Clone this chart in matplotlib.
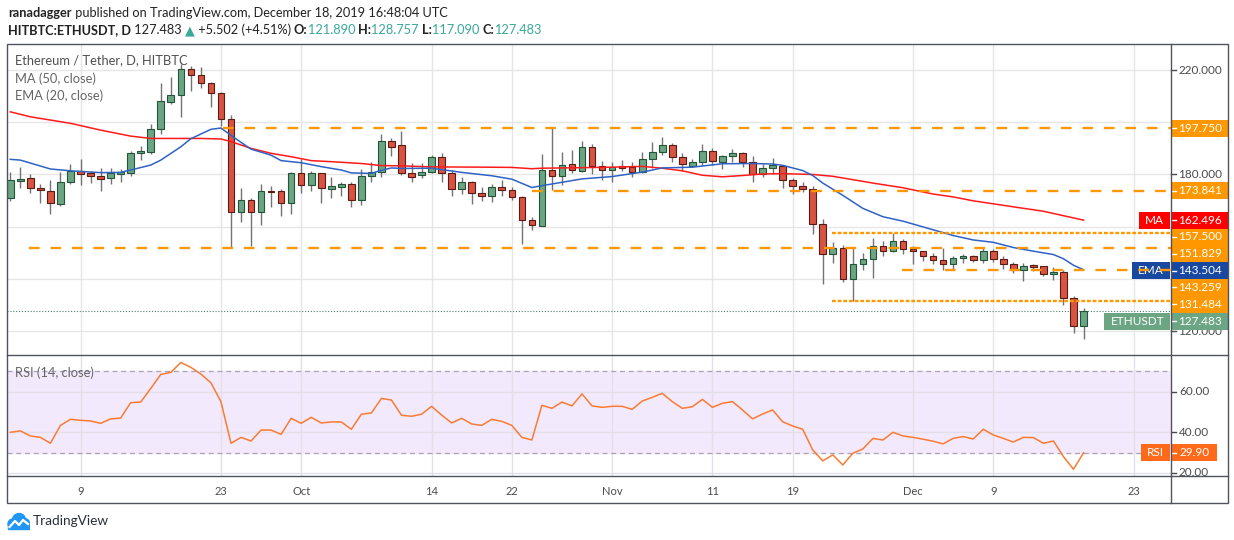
import numpy as np
import pandas as pd
import matplotlib
matplotlib.use('Agg')
import matplotlib.pyplot as plt
from matplotlib.patches import Rectangle, Circle
from matplotlib.transforms import blended_transform_factory, Bbox, TransformedBbox

plt.rcParams['font.family'] = ['Lato', 'DejaVu Sans']

# ETH/USDT daily candles on HitBTC, 2 Sep - 18 Dec 2019
dates = pd.date_range('2019-09-02', '2019-12-18', freq='D')

opens = [170.8, 177.5, 178.5, 174.8, 173.5, 168.7, 177.3, 181.2, 180.4, 179.6,
         178.5, 180.3, 180.4, 188.1, 188.8, 197.3, 207.6, 210.4, 220.3, 218.0,
         214.9, 211.1, 201.1, 165.7, 170.2, 165.7, 173.6, 173.6, 168.9, 180.4,
         175.8, 180.4, 174.6, 175.3, 176.2, 170.2, 179.6, 180.8, 192.7, 191.2,
         180.5, 179.7, 180.9, 186.6, 180.5, 174.4, 177.1, 172.9, 171.7, 175.2,
         174.0, 171.3, 162.5, 160.3, 181.7, 179.4, 183.9, 181.5, 190.4, 183.3,
         181.9, 183.3, 182.8, 181.1, 185.9, 188.5, 191.2, 186.6, 183.4, 184.7,
         188.9, 184.7, 186.9, 188.2, 184.7, 180.1, 182.3, 183.4, 178.0, 175.7,
         174.6, 160.9, 149.5, 151.8, 140.0, 145.7, 147.6, 152.5, 150.6, 154.4,
         151.5, 150.6, 148.7, 147.2, 145.6, 147.8, 148.9, 147.3, 150.7, 147.7,
         145.7, 143.4, 145.1, 145.0, 141.7, 142.6, 132.6, 121.890]
highs = [181.0, 182.8, 180.0, 176.3, 177.9, 180.8, 184.0, 185.9, 181.3, 182.6,
         182.5, 182.2, 189.1, 190.9, 199.3, 214.9, 217.4, 222.5, 221.5, 221.3,
         215.4, 211.6, 202.8, 174.9, 171.1, 176.3, 175.7, 174.5, 181.0, 185.8,
         181.4, 180.4, 179.0, 177.2, 177.1, 182.1, 184.7, 195.5, 194.0, 196.7,
         184.3, 184.3, 187.4, 188.3, 181.8, 179.1, 177.6, 175.2, 176.3, 178.0,
         175.2, 171.6, 163.7, 187.9, 197.7, 188.7, 189.4, 192.9, 191.7, 185.2,
         184.6, 185.6, 184.8, 188.8, 192.5, 194.4, 192.2, 188.3, 185.9, 191.7,
         190.3, 187.6, 189.8, 188.7, 187.1, 184.0, 186.4, 183.8, 178.7, 177.2,
         175.7, 162.9, 154.2, 152.9, 151.8, 150.0, 155.6, 154.6, 157.5, 155.4,
         152.4, 150.6, 149.9, 151.8, 148.9, 149.4, 149.2, 152.0, 151.6, 148.6,
         146.6, 145.9, 145.5, 145.0, 144.4, 143.3, 133.3, 128.757]
lows = [169.9, 174.7, 173.0, 169.2, 165.0, 168.0, 176.3, 176.1, 176.8, 173.8,
        176.4, 177.2, 179.5, 185.5, 188.0, 195.5, 207.0, 202.1, 212.1, 213.2,
        206.0, 198.7, 151.7, 161.9, 152.7, 160.6, 167.6, 164.2, 164.7, 173.0,
        173.8, 169.2, 170.8, 171.9, 167.6, 168.4, 177.3, 179.1, 186.9, 179.7,
        177.3, 178.5, 180.4, 177.3, 171.6, 172.7, 168.5, 169.7, 169.3, 171.6,
        170.4, 153.5, 158.6, 160.3, 174.0, 175.8, 180.6, 181.1, 180.0, 177.7,
        177.3, 181.5, 178.9, 180.5, 182.4, 187.3, 184.6, 181.4, 182.7, 183.6,
        183.6, 182.2, 184.7, 182.9, 177.3, 179.2, 180.0, 174.8, 172.7, 173.2,
        157.0, 138.0, 146.0, 138.7, 131.5, 143.5, 140.3, 148.9, 150.1, 149.6,
        145.8, 146.7, 145.7, 143.2, 143.5, 146.0, 146.6, 146.0, 146.6, 143.8,
        142.3, 139.0, 142.9, 141.0, 139.7, 129.8, 119.4, 117.090]
closes = [177.9, 178.3, 174.8, 173.9, 168.9, 177.3, 181.3, 180.3, 179.5, 178.4,
          180.4, 181.0, 188.1, 189.1, 197.4, 208.0, 210.4, 220.3, 218.0, 214.9,
          211.1, 201.2, 165.7, 170.2, 165.7, 173.6, 173.3, 168.9, 180.4, 175.8,
          180.4, 174.7, 175.6, 176.3, 170.2, 179.6, 180.8, 192.7, 190.7, 180.5,
          179.2, 181.0, 186.6, 180.5, 174.4, 177.1, 172.9, 171.6, 175.2, 173.9,
          171.3, 162.5, 160.5, 181.7, 179.4, 183.6, 181.7, 190.4, 183.3, 181.9,
          182.8, 182.5, 181.1, 185.9, 188.5, 191.2, 186.6, 183.9, 184.8, 188.9,
          185.1, 187.0, 188.3, 184.7, 180.1, 182.4, 183.7, 178.0, 175.7, 174.4,
          160.9, 149.5, 151.8, 140.0, 145.7, 147.6, 152.5, 150.6, 154.4, 151.4,
          150.5, 148.6, 147.1, 145.6, 148.1, 148.9, 147.2, 150.7, 147.7, 145.7,
          143.4, 145.0, 144.7, 141.9, 142.8, 132.6, 121.981, 127.483]

# MA(50) and EMA(20) (candle index -> value)
ma_idx = [0, 2, 6, 9, 12, 14, 19, 21, 22, 24, 26, 28, 30, 32, 35, 37, 39, 42, 47, 50,
          52, 53, 57, 60, 63, 65, 67, 69, 71, 73, 75, 77, 80, 82, 84, 86, 89, 92, 94, 96,
          100, 103, 107]
ma_val = [204.0, 202.1, 199.6, 197.0, 194.7, 193.8, 193.8, 193.6, 192.6, 190.0,
          188.1, 186.8, 185.3, 184.9, 184.2, 183.4, 183.3, 182.9, 182.8, 182.7,
          182.2, 182.4, 182.6, 182.8, 183.1, 182.4, 181.4, 179.7, 179.1, 179.6,
          180.2, 180.3, 180.0, 179.3, 178.0, 176.7, 174.9, 172.5, 171.4, 169.9,
          167.6, 165.9, 162.496]
ema_idx = [0, 1, 4, 6, 9, 11, 12, 14, 15, 17, 18, 19, 20, 21, 22, 23, 24, 26, 27, 29,
           31, 33, 34, 36, 37, 38, 39, 42, 45, 48, 50, 52, 53, 55, 57, 60, 63, 65, 68, 71,
           74, 76, 77, 79, 80, 81, 83, 85, 87, 89, 92, 94, 96, 98, 100, 102, 104, 105, 106, 107]
ema_val = [185.8, 185.5, 182.1, 181.4, 180.7, 180.8, 181.7, 183.6, 185.5, 190.6,
           193.7, 195.5, 197.3, 197.8, 195.0, 192.3, 189.7, 187.4, 185.3, 184.5,
           183.0, 181.7, 180.6, 180.4, 181.6, 182.5, 182.3, 182.4, 180.8, 179.5,
           178.2, 175.0, 175.7, 177.0, 178.3, 179.2, 180.9, 182.5, 182.8, 184.1,
           184.2, 184.0, 183.5, 181.5, 179.6, 176.7, 172.0, 167.0, 163.8, 162.1,
           158.8, 156.6, 154.9, 154.0, 152.0, 150.6, 149.3, 147.7, 145.2, 143.504]

rsi = [40.0, 40.7, 38.2, 37.5, 34.6, 43.4, 46.4, 45.9, 45.6, 44.4,
       46.6, 47.0, 54.6, 54.9, 61.6, 68.5, 69.5, 74.4, 72.0, 68.7,
       64.4, 55.1, 34.6, 37.5, 35.7, 41.1, 41.1, 39.0, 46.9, 44.4,
       47.4, 44.6, 45.1, 45.1, 41.5, 48.9, 49.5, 56.7, 55.9, 48.4,
       47.9, 48.9, 52.8, 48.5, 44.6, 46.9, 44.1, 43.4, 46.4, 45.4,
       43.4, 37.5, 36.2, 53.3, 51.8, 54.9, 53.0, 58.9, 53.0, 52.3,
       52.8, 52.8, 51.3, 55.4, 57.2, 59.2, 55.1, 51.8, 52.6, 56.2,
       52.3, 54.3, 55.1, 51.0, 46.6, 49.0, 51.0, 45.2, 43.1, 41.5,
       31.3, 25.9, 28.9, 23.9, 29.7, 31.8, 37.0, 36.2, 40.0, 38.2,
       37.5, 36.6, 35.6, 34.3, 37.0, 37.9, 36.7, 41.5, 38.7, 37.0,
       35.2, 37.5, 37.4, 34.6, 35.7, 28.0, 21.8, 29.90]

# horizontal levels drawn by the author
level_price = [197.750, 173.841, 157.500, 151.829, 143.259, 131.484]
level_from = [21.2, 52.0, 81.9, 1.9, 88.9, 81.9]
level_dotted = [False, False, True, False, False, True]

tick_dates = ['2019-09-09', '2019-09-23', '2019-10-01', '2019-10-14', '2019-10-22',
              '2019-11-01', '2019-11-11', '2019-11-19', '2019-12-01', '2019-12-09',
              '2019-12-23']
tick_labels = ['9', '23', 'Oct', '14', '22', 'Nov', '11', '19', 'Dec', '9', '23']
price_ticks = [120, 140, 160, 180, 200, 220]
rsi_ticks = [20, 40, 60]

UP, UP_EDGE = '#6ba583', '#225437'
DOWN, DOWN_EDGE = '#d75442', '#5b1a13'
ORANGE = '#ff9800'
TEAL = '#3aa89b'
GRID = '#e6e6e6'
FRAME = '#50535e'
TXT = '#4b4b4b'

W, H = 1234, 540
AX_R = 1171      # right edge of the panes / price scale line
FR_R = 1228      # right edge of the outer frame


def fx(px):
    return px / W


def fy(py):
    return 1 - py / H


fig = plt.figure(figsize=(12.34, 5.4), dpi=100)
ax = fig.add_axes([fx(7), fy(354.5), fx(AX_R) - fx(7), fy(44) - fy(354.5)])
rx = fig.add_axes([fx(7), fy(476), fx(AX_R) - fx(7), fy(355) - fy(476)], sharex=ax)
over = fig.add_axes([0, 0, 1, 1])
over.set_xlim(0, 1)
over.set_ylim(0, 1)
over.axis('off')
renderer = fig.canvas.get_renderer()

x = np.arange(len(dates))
o, h, l, c = (np.array(v) for v in (opens, highs, lows, closes))
up = c >= o
start = dates[0]
tick_idx = [(pd.Timestamp(d) - start).days for d in tick_dates]

# main pane: candles
ax.vlines(x, l, h, color='#737375', lw=1, zorder=3)
ax.bar(x, np.maximum(np.abs(c - o), 0.45), bottom=np.minimum(o, c), width=0.66,
       color=np.where(up, UP, DOWN), edgecolor=np.where(up, UP_EDGE, DOWN_EDGE),
       linewidth=0.8, zorder=4)
ax.plot(ma_idx, ma_val, color='#ff1a1a', lw=1.1, zorder=5)
ax.plot(ema_idx, ema_val, color='#2f62c4', lw=1.1, zorder=5)

xmax = 115.72
for p, f, dotted in zip(level_price, level_from, level_dotted):
    ls = (0, (1.6, 0.8)) if dotted else (0, (4.5, 4.6))
    ax.plot([f, xmax], [p, p], color=ORANGE, lw=1.7, ls=ls, zorder=6)
ax.axhline(c[-1], color='#4e7d65', lw=0.8, ls=(0, (1, 1.6)), zorder=2)

ax.set_xlim(-0.33, xmax)
ax.set_ylim(111.0, 230.0)
ax.set_yticks(price_ticks)
ax.set_xticks(tick_idx)
ax.grid(color=GRID, lw=1)
ax.set_axisbelow(True)
ax.tick_params(left=False, bottom=False, labelleft=False, labelbottom=False)
for s in ax.spines.values():
    s.set_visible(False)

# price scale labels on the right (boxes first, grid labels hidden where a box sits)
tr = blended_transform_factory(fig.transFigure, ax.transData)
label_h = 6.45
tags = [(p, ORANGE, None) for p in level_price]
tags += [(ma_val[-1], '#ff0000', 'MA'), (ema_val[-1], '#1848a0', 'EMA'),
         (closes[-1], UP, 'ETHUSDT')]
tags.sort(key=lambda t: -t[0])
placed = []
prev = None
for val, col, tag in tags:
    y = val if prev is None or prev - val >= label_h else prev - label_h
    prev = y
    placed.append(y)
    ax.add_patch(Rectangle((fx(AX_R + 0.5), y - label_h / 2), fx(FR_R) - fx(AX_R + 0.5), label_h,
                           transform=tr, fc=col, ec='none', clip_on=False, zorder=10))
    ax.plot([fx(AX_R), fx(AX_R + 4.5)], [y, y], transform=tr, color='white', lw=1,
            clip_on=False, zorder=11)
    ax.text(fx(1200), y, f'{val:.3f}', transform=tr, ha='center', va='center',
            fontsize=8.5, color='white', clip_on=False, zorder=11)
    if tag:
        t = ax.text(fx(AX_R - 7), y, tag, transform=tr, ha='right', va='center',
                    fontsize=8.5, color='white', clip_on=False, zorder=5.6)
        tw = t.get_window_extent(renderer).width / fig.bbox.width + fx(12)
        ax.add_patch(Rectangle((fx(AX_R - 1) - tw, y - label_h / 2), tw, label_h,
                               transform=tr, fc=col, ec='none', clip_on=False, zorder=5.5))

for p in price_ticks:
    if min(abs(p - y) for y in placed) < 0.5 * label_h:
        continue
    ax.plot([fx(AX_R), fx(AX_R + 4.5)], [p, p], transform=tr, color=TXT, lw=1,
            clip_on=False, zorder=1)
    ax.text(fx(1200), p, f'{p:.3f}', transform=tr, ha='center', va='center',
            fontsize=8.5, color=TXT, clip_on=False, zorder=1)

# RSI pane
rx.axhspan(30, 70, color='#f3e9fd', zorder=0)
for lvl in (70, 30):
    rx.axhline(lvl, color='#a9a4b0', lw=0.9, ls=(0, (4, 3)), zorder=1)
rx.plot(x, rsi, color='#fa7b32', lw=1.1, zorder=3)
rx.set_ylim(18.47, 78.08)
rx.set_yticks(rsi_ticks)
rx.grid(color='#e3dfe8', lw=1)
rx.set_axisbelow(True)
rx.set_xticks(tick_idx)
rx.set_xticklabels(tick_labels)
rx.tick_params(left=False, bottom=False, labelleft=False, length=0, pad=7,
               labelsize=8, labelcolor=TXT)
for s in rx.spines.values():
    s.set_visible(False)

trr = blended_transform_factory(fig.transFigure, rx.transData)
clip = TransformedBbox(Bbox([[fx(AX_R), fy(476)], [fx(FR_R), fy(355)]]), fig.transFigure)
for v in rsi_ticks:
    t = rx.text(fx(1194), v, f'{v:.2f}', transform=trr, ha='center', va='center',
                fontsize=8.5, color=TXT, zorder=1)
    t.set_clip_box(clip)
    t.set_clip_on(True)
    tk, = rx.plot([fx(AX_R), fx(AX_R + 4.5)], [v, v], transform=trr, color=TXT, lw=1, zorder=1)
    tk.set_clip_box(clip)
rh = 8.2
rx.add_patch(Rectangle((fx(AX_R + 0.5), rsi[-1] - rh / 2), fx(1217) - fx(AX_R + 0.5), rh,
                       transform=trr, fc='#ff6a1a', ec='none', clip_on=False, zorder=10))
rx.plot([fx(AX_R), fx(AX_R + 4.5)], [rsi[-1], rsi[-1]], transform=trr, color='white', lw=1,
        clip_on=False, zorder=11)
rx.text(fx(1195), rsi[-1], f'{rsi[-1]:.2f}', transform=trr, ha='center', va='center',
        fontsize=8.5, color='white', clip_on=False, zorder=11)
t = rx.text(fx(AX_R - 7), rsi[-1], 'RSI', transform=trr, ha='right', va='center',
            fontsize=8.5, color='white', clip_on=False, zorder=11)
tw = t.get_window_extent(renderer).width / fig.bbox.width + fx(12)
rx.add_patch(Rectangle((fx(AX_R - 1) - tw, rsi[-1] - rh / 2), tw, rh, transform=trr,
                       fc='#ff6a1a', ec='none', clip_on=False, zorder=10))

# pane legends
over.text(fx(15), fy(60), 'Ethereum / Tether, D, HITBTC', fontsize=9.3, color='#505050',
          va='center')
over.text(fx(15), fy(79), 'MA (50, close)', fontsize=9.3, color='#666666', va='center')
over.text(fx(15), fy(96), 'EMA (20, close)', fontsize=9.3, color='#666666', va='center')
over.text(fx(15), fy(373), 'RSI (14, close)', fontsize=9.3, color='#666666', va='center')

# frame lines
over.add_patch(Rectangle((fx(7), fy(503)), fx(FR_R) - fx(7), fy(44) - fy(503),
                         fill=False, ec=FRAME, lw=1.0))
over.plot([fx(7), fx(FR_R)], [fy(354.7)] * 2, color=FRAME, lw=1.0)
over.plot([fx(7), fx(FR_R)], [fy(476)] * 2, color=FRAME, lw=1.0)
over.plot([fx(AX_R), fx(AX_R)], [fy(44), fy(503)], color=FRAME, lw=1.0)


# header lines
def write_line(parts, px, py, size):
    t = None
    for s, col, bold in parts:
        kw = dict(color=col, fontsize=size, fontweight='bold' if bold else 'normal')
        if t is None:
            t = over.text(fx(px), fy(py), s, va='center', ha='left', **kw)
        else:
            t = over.annotate(s, xy=(1, 0), xycoords=t, va='bottom', ha='left', **kw)


chg = closes[-1] - closes[-2]
pct = chg / closes[-2] * 100
write_line([('ranadagger', '#222222', True),
            (' published on TradingView.com, December 18, 2019 16:48:04 UTC', '#222222', False)],
           8, 13, 9.2)
write_line([('HITBTC:ETHUSDT, D', '#222222', True),
            (f' {closes[-1]:.3f} ', '#222222', False),
            ('\u25b2', TEAL, False),
            (f' +{chg:.3f} (+{pct:.2f}%) ', '#222222', False),
            ('O:', '#222222', True), (f'{opens[-1]:.3f} ', TEAL, False),
            ('H:', '#222222', True), (f'{highs[-1]:.3f} ', TEAL, False),
            ('L:', '#222222', True), (f'{lows[-1]:.3f} ', TEAL, False),
            ('C:', '#222222', True), (f'{closes[-1]:.3f}', TEAL, False)],
           8, 30, 9.2)

# TradingView logo
lg = fig.add_axes([fx(7), fy(531), fx(30) - fx(7), fy(511) - fy(531)])
lg.set_xlim(0, 23)
lg.set_ylim(0, 20)
lg.axis('off')
for cx, cy, r in [(6, 7, 5), (12, 11, 6.5), (17.5, 7.5, 5)]:
    lg.add_patch(Circle((cx, cy), r, color='#2196f3'))
lg.add_patch(Rectangle((1, 2), 21.5, 6, color='#2196f3'))
lg.plot([2.5, 8, 12, 16, 21], [4, 10, 6, 11, 7], color='white', lw=1.6)
over.text(fx(33), fy(521), 'TradingView', fontsize=9.8, color='#2a2e39', va='center')

fig.savefig('out.png', dpi=100, facecolor='white')
